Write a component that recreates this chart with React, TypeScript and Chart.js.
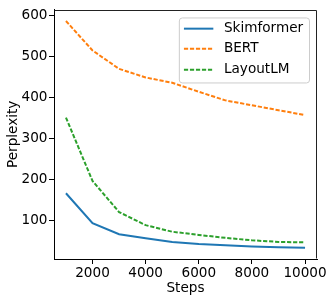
import React, { useEffect, useRef } from "react";
import { Chart, registerables } from "chart.js";

Chart.register(...registerables);

const steps = [1000, 2000, 3000, 4000, 5000, 6000, 7000, 8000, 9000, 10000];
const skimformer = [166, 93, 66, 56, 47, 42, 39, 36, 34, 33];
const bert = [587, 515, 470, 449, 436, 414, 393, 381, 369, 357];
const layoutlm = [351, 196, 120, 88, 72, 64, 57, 51, 47, 46];
const xTicks = [2000, 4000, 6000, 8000, 10000];
const yTicks = [100, 200, 300, 400, 500, 600];
const seriesNames = ["Skimformer", "BERT", "LayoutLM"];
const seriesColors = ["#1f77b4", "#ff7f0e", "#2ca02c"];
const seriesDash: number[][] = [[], [4.2, 1.8], [4.2, 1.8]];

const FONT = "'DejaVu Sans', sans-serif";
const FS = 13.6;

const mplPlugin = {
  id: "mplFrameLegend",
  afterDatasetsDraw(chart: any) {
    const ctx: CanvasRenderingContext2D = chart.ctx;
    const a = chart.chartArea;
    ctx.save();
    ctx.strokeStyle = "#222";
    ctx.lineWidth = 1;
    ctx.setLineDash([]);
    const L = Math.round(a.left) + 0.5;
    const T = Math.round(a.top) + 0.5;
    const R = Math.round(a.right) - 0.5;
    const B = Math.round(a.bottom) - 0.5;
    ctx.beginPath();
    ctx.moveTo(L, T);
    ctx.lineTo(R, T);
    ctx.lineTo(R, B);
    ctx.stroke();

    ctx.font = `${FS}px ${FONT}`;
    let tw = 0;
    seriesNames.forEach((n) => {
      tw = Math.max(tw, ctx.measureText(n).width);
    });
    const boxW = 5 + 29 + 11 + tw + 6;
    const boxH = 65;
    const boxRight = a.right - 7.5;
    const boxTop = a.top + 8.3;
    const boxLeft = boxRight - boxW;
    ctx.beginPath();
    (ctx as any).roundRect(boxLeft, boxTop, boxW, boxH, 3);
    ctx.fillStyle = "rgba(255,255,255,0.8)";
    ctx.fill();
    ctx.strokeStyle = "#cccccc";
    ctx.lineWidth = 1;
    ctx.stroke();
    const rows = [10.7, 30.9, 51.7];
    chart.data.datasets.forEach((ds: any, i: number) => {
      const cy = boxTop + rows[i];
      ctx.beginPath();
      ctx.strokeStyle = ds.borderColor;
      ctx.lineWidth = 2;
      ctx.setLineDash(ds.borderDash || []);
      ctx.moveTo(boxLeft + 4.6, cy);
      ctx.lineTo(boxLeft + 34, cy);
      ctx.stroke();
      ctx.setLineDash([]);
      ctx.fillStyle = "#000";
      ctx.textBaseline = "middle";
      ctx.textAlign = "left";
      ctx.fillText(ds.label, boxLeft + 44.6, cy);
    });
    ctx.restore();
  },
};

export default function App() {
  const ref = useRef<HTMLCanvasElement | null>(null);
  useEffect(() => {
    if (!ref.current) return;
    Chart.defaults.font.family = FONT;
    Chart.defaults.font.size = FS;
    Chart.defaults.color = "#000";
    const datasets = [skimformer, bert, layoutlm].map((vals, i) => ({
      label: seriesNames[i],
      data: vals.map((v, j) => ({ x: steps[j], y: v })),
      borderColor: seriesColors[i],
      backgroundColor: seriesColors[i],
      borderWidth: 2,
      borderDash: seriesDash[i],
      pointRadius: 0,
      fill: false,
      tension: 0,
    }));
    const chart = new Chart(ref.current, {
      type: "line",
      data: { datasets },
      plugins: [mplPlugin],
      options: {
        animation: false,
        responsive: false,
        layout: { padding: { top: 5, right: 15, left: 0, bottom: 0 } },
        plugins: { legend: { display: false }, tooltip: { enabled: false } },
        scales: {
          x: {
            type: "linear",
            min: 550,
            max: 10450,
            afterBuildTicks: (s: any) => {
              s.ticks = xTicks.map((v) => ({ value: v }));
            },
            afterFit: (s: any) => {
              s.height = 42;
            },
            grid: { drawOnChartArea: false, drawTicks: true, tickLength: 5, color: "#000" },
            border: { display: true, color: "#000", width: 1 },
            ticks: { color: "#000", padding: 1, maxRotation: 0, autoSkip: false, callback: (v: any) => String(v) },
            title: { display: true, text: "Steps", color: "#000", padding: { top: 0, bottom: 4.5 } },
          },
          y: {
            type: "linear",
            min: 5.3,
            max: 614.7,
            afterBuildTicks: (s: any) => {
              s.ticks = yTicks.map((v) => ({ value: v }));
            },
            afterFit: (s: any) => {
              s.width = 54;
            },
            grid: { drawOnChartArea: false, drawTicks: true, tickLength: 5, color: "#000" },
            border: { display: true, color: "#000", width: 1 },
            ticks: { color: "#000", padding: 1.5, autoSkip: false, callback: (v: any) => String(v) },
            title: { display: true, text: "Perplexity", color: "#000", padding: { top: 5, bottom: 0 } },
          },
        },
      },
    });
    return () => chart.destroy();
  }, []);
  return (
    <div style={{ position: "fixed", left: 0, top: 0, width: 332, height: 301, background: "#fff" }}>
      <canvas ref={ref} width={332} height={301} />
    </div>
  );
}
